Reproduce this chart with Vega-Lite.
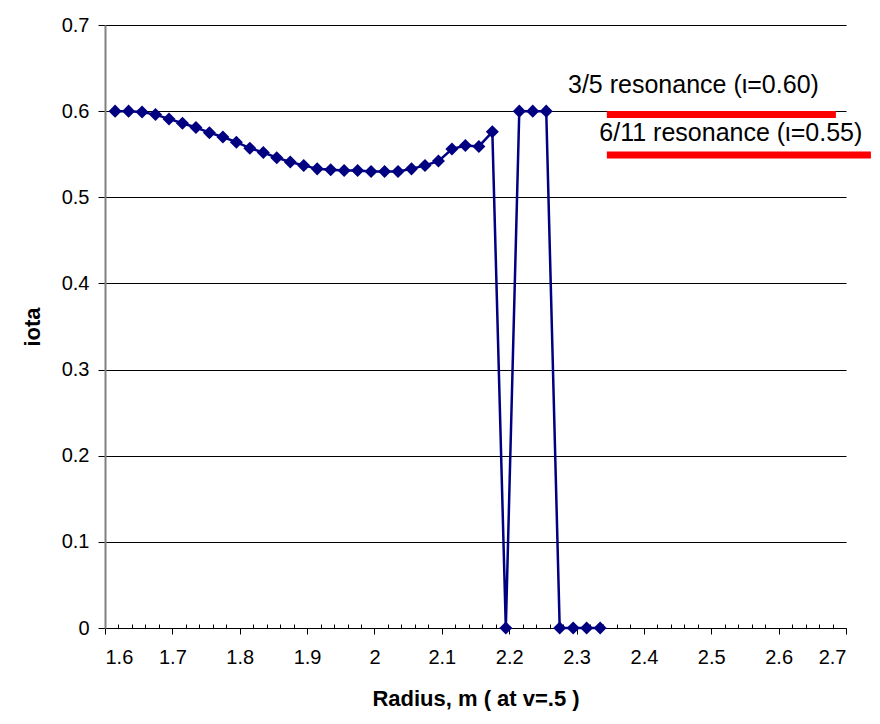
{
  "$schema": "https://vega.github.io/schema/vega-lite/v6.json",
  "width": 741,
  "height": 603,
  "autosize": {"type": "none"},
  "padding": {"left": 105, "top": 25, "right": 34, "bottom": 96},
  "background": "white",
  "config": {
    "view": {"stroke": null},
    "font": "Liberation Sans",
    "axis": {
      "labelFont": "Liberation Sans",
      "labelFontSize": 20,
      "labelColor": "black",
      "titleFont": "Liberation Sans",
      "titleFontSize": 22,
      "titleFontWeight": "bold",
      "titleColor": "black",
      "tickColor": "black",
      "domainColor": "black"
    }
  },
  "datasets": {
    "iota": [
      {"r": 1.615, "iota": 0.600},
      {"r": 1.635, "iota": 0.600},
      {"r": 1.655, "iota": 0.599},
      {"r": 1.675, "iota": 0.596},
      {"r": 1.695, "iota": 0.591},
      {"r": 1.715, "iota": 0.586},
      {"r": 1.735, "iota": 0.581},
      {"r": 1.755, "iota": 0.575},
      {"r": 1.775, "iota": 0.570},
      {"r": 1.795, "iota": 0.564},
      {"r": 1.815, "iota": 0.557},
      {"r": 1.835, "iota": 0.552},
      {"r": 1.855, "iota": 0.546},
      {"r": 1.875, "iota": 0.541},
      {"r": 1.895, "iota": 0.537},
      {"r": 1.915, "iota": 0.533},
      {"r": 1.935, "iota": 0.532},
      {"r": 1.955, "iota": 0.531},
      {"r": 1.975, "iota": 0.531},
      {"r": 1.995, "iota": 0.530},
      {"r": 2.015, "iota": 0.530},
      {"r": 2.035, "iota": 0.530},
      {"r": 2.055, "iota": 0.533},
      {"r": 2.075, "iota": 0.537},
      {"r": 2.095, "iota": 0.542},
      {"r": 2.115, "iota": 0.556},
      {"r": 2.135, "iota": 0.560},
      {"r": 2.155, "iota": 0.559},
      {"r": 2.175, "iota": 0.576},
      {"r": 2.195, "iota": 0.0},
      {"r": 2.215, "iota": 0.600},
      {"r": 2.235, "iota": 0.600},
      {"r": 2.255, "iota": 0.600},
      {"r": 2.275, "iota": 0.0},
      {"r": 2.295, "iota": 0.0},
      {"r": 2.315, "iota": 0.0},
      {"r": 2.335, "iota": 0.0}
    ],
    "res": [
      {"r1": 2.345, "r2": 2.685, "iota": 0.596, "label": "3/5 resonance (ι=0.60)", "lr": 2.4735, "ly": 0.630},
      {"r1": 2.345, "r2": 2.737, "iota": 0.549, "label": "6/11 resonance (ι=0.55)", "lr": 2.529, "ly": 0.5746}
    ]
  },
  "layer": [
    {
      "data": {"name": "iota"},
      "mark": {"type": "line", "color": "#000080", "strokeWidth": 2.5,
        "point": {"shape": "diamond", "size": 170, "filled": true, "color": "#000080", "opacity": 1}},
      "encoding": {
        "x": {"field": "r", "type": "quantitative",
          "scale": {"domain": [1.6, 2.7], "nice": false, "zero": false},
          "axis": {"title": "Radius, m ( at v=.5 )", "values": [1.6,1.7,1.8,1.9,2.0,2.1,2.2,2.3,2.4,2.5,2.6,2.7],
            "format": "~g", "grid": false, "tickSize": 6, "labelPadding": 13, "titlePadding": 21}},
        "y": {"field": "iota", "type": "quantitative",
          "scale": {"domain": [0, 0.7], "nice": false},
          "axis": {"title": "iota", "values": [0,0.1,0.2,0.3,0.4,0.5,0.6,0.7], "format": "~g",
            "grid": true, "gridColor": "black", "gridWidth": 1, "gridOpacity": 1,
            "domainColor": "#808080", "domainWidth": 2, "tickSize": 7, "labelPadding": 9, "titlePadding": 17}}
      }
    },
    {
      "data": {"name": "res"},
      "mark": {"type": "rule", "color": "#ff0000", "strokeWidth": 7},
      "encoding": {
        "x": {"field": "r1", "type": "quantitative", "scale": {"domain": [1.6, 2.7], "nice": false, "zero": false},
          "axis": {"orient": "bottom", "title": null, "labels": false, "domain": false, "grid": false,
            "values": [1.62,1.64,1.66,1.68,1.72,1.74,1.76,1.78,1.82,1.84,1.86,1.88,1.92,1.94,1.96,1.98,2.02,2.04,2.06,2.08,2.12,2.14,2.16,2.18,2.22,2.24,2.26,2.28,2.32,2.34,2.36,2.38,2.42,2.44,2.46,2.48,2.52,2.54,2.56,2.58,2.62,2.64,2.66,2.68],
            "tickSize": -4}},
        "x2": {"field": "r2"},
        "y": {"field": "iota", "type": "quantitative"}
      }
    },
    {
      "data": {"name": "res"},
      "mark": {"type": "text", "align": "center", "baseline": "middle", "fontSize": 25, "font": "Liberation Sans", "color": "black"},
      "encoding": {
        "x": {"field": "lr", "type": "quantitative", "scale": {"domain": [1.6, 2.7], "nice": false, "zero": false}, "axis": null},
        "y": {"field": "ly", "type": "quantitative"},
        "text": {"field": "label"}
      }
    }
  ],
  "resolve": {"scale": {"x": "independent"}}
}
